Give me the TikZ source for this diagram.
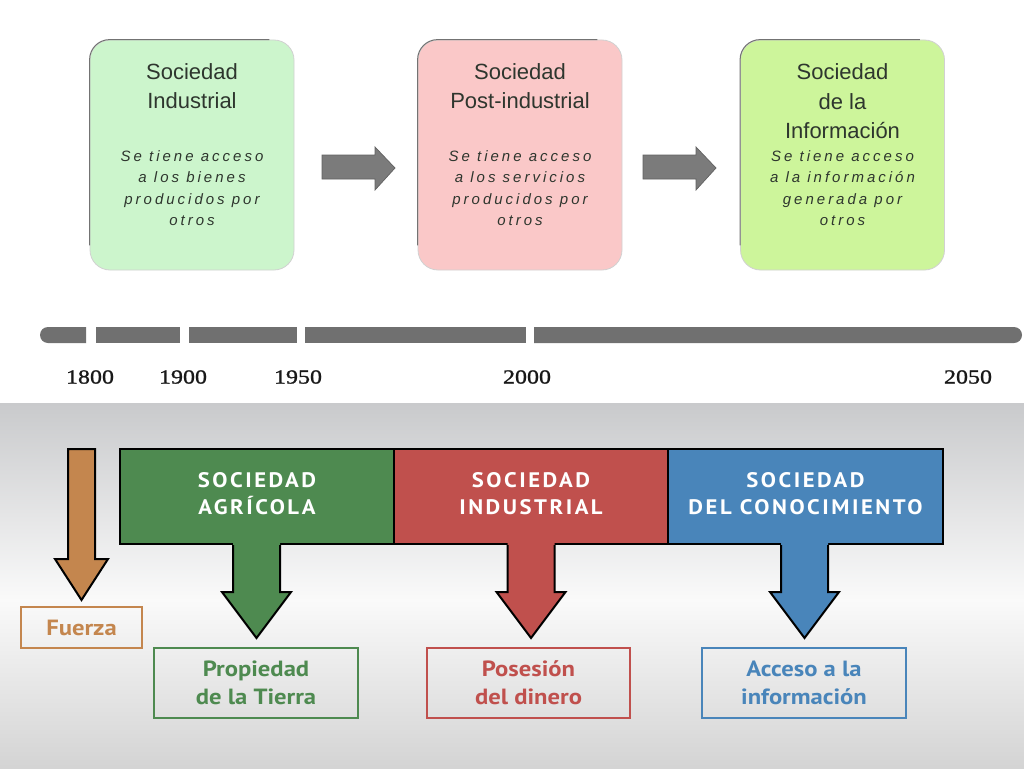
\documentclass[tikz,border=0pt]{standalone}
\usepackage{fontspec}
\setmainfont{Liberation Sans}
\newfontfamily\yearfont[FakeStretch=1.2,FakeBold=1.2]{Liberation Serif}
\newfontfamily\itfont[LetterSpace=20]{Liberation Sans}
\newfontfamily\capsfont[LetterSpace=12,FakeStretch=1.08]{PT Sans}
\newfontfamily\lblfont[FakeStretch=1.12]{PT Sans}
\definecolor{boxA}{HTML}{CCF5CC}
\definecolor{boxB}{HTML}{FAC8C8}
\definecolor{boxC}{HTML}{CDF59B}
\definecolor{tline}{HTML}{707070}
\definecolor{garrow}{HTML}{7B7B7B}
\definecolor{cgreen}{HTML}{4E8A50}
\definecolor{cred}{HTML}{C0504D}
\definecolor{cblue}{HTML}{4985BA}
\definecolor{corange}{HTML}{C4864E}
\definecolor{bandgray}{HTML}{C9CACC}
\definecolor{txtdark}{HTML}{2E362E}
\tikzset{
  topbox/.style={rounded corners=20pt, draw=black!18, line width=0.8pt, minimum width=204pt, minimum height=230pt, inner sep=0pt},
  boxedge/.style={draw=black!55, line width=1pt, rounded corners=20pt},
  ttl/.style={align=center, text=txtdark, font=\fontsize{22}{29}\selectfont, inner sep=0pt},
  itl/.style={align=center, text=txtdark, font=\itfont\itshape\fontsize{15}{21.3}\selectfont, inner sep=0pt},
  year/.style={font=\yearfont\fontsize{20}{22}\selectfont, text=black!90, inner sep=0pt},
  header/.style={draw=black, line width=2pt, minimum height=95pt, inner sep=0pt, text=white, align=center, font=\capsfont\bfseries\fontsize{21}{27}\selectfont},
  lbl/.style={line width=1.5pt, inner sep=0pt, align=center, font=\lblfont\bfseries\fontsize{22}{28}\selectfont},
  darrowline/.style={draw=black, line width=2pt, line join=miter}
}
\begin{document}
\begin{tikzpicture}[x=1pt,y=-1pt]
\useasboundingbox (0,0) rectangle (1024,768);
\fill[white] (0,0) rectangle (1024,403);
% bottom band background
\shade[top color=bandgray, bottom color=white!98!black] (0,403) rectangle (1024,600);
\shade[top color=white!98!black, bottom color=black!17] (0,600) rectangle (1024,768);

% top boxes
\node[topbox, fill=boxA] (b1) at (192,155) {};
\node[topbox, fill=boxB] (b2) at (520,155) {};
\node[topbox, fill=boxC] (b3) at (842.5,155) {};
\foreach \b in {b1,b2,b3}{
  \draw[boxedge] ([yshift=25pt]\b.south west) -- (\b.north west) -- ([xshift=-25pt]\b.north east);
}
\node[ttl] (t1) at (192,86.5) {Sociedad\\Industrial};
\node[itl] (i1) at (192,188) {Se tiene acceso\\a los bienes\\producidos por\\otros};
\node[ttl] (t2) at (520,86.5) {Sociedad\\Post-industrial};
\node[itl] (i2) at (520,188) {Se tiene acceso\\a los servicios\\producidos por\\otros};
\node[ttl, font=\fontsize{22}{29.5}\selectfont] (t3) at (842.5,101.5) {Sociedad\\de la\\Información};
\node[itl] (i3) at (842.5,188) {Se tiene acceso\\a la información\\generada por\\otros};

% gray arrows between boxes
\coordinate (ga1) at (322,167);
\coordinate (ga2) at (643,167);
\foreach \c in {ga1,ga2}{
  \fill[garrow, draw=black!62, line width=0.7pt] ([shift={(0,-12)}]\c) -- ++(53,0) -- ++(0,-8) -- ++(20,21) -- ++(-20,22) -- ++(0,-11) -- ++(-53,0) -- cycle;
}

% timeline
\fill[tline] (86,327) -- (48,327) arc[start angle=90, end angle=270, radius=8pt] -- (86,343) -- cycle;
\fill[tline] (96,327) rectangle (180,343);
\fill[tline] (189,327) rectangle (297,343);
\fill[tline] (305,327) rectangle (526,343);
\fill[tline] (534,327) -- (1014,327) arc[start angle=90, end angle=-90, radius=8pt] -- (534,343) -- cycle;

\node[year] (y1800) at (90,377) {1800};
\node[year] (y1900) at (183,377) {1900};
\node[year] (y1950) at (298,377) {1950};
\node[year] (y2000) at (527,377) {2000};
\node[year] (y2050) at (968,377) {2050};

% header boxes
\node[header, fill=cgreen, minimum width=274pt] (h1) at (257,496.5) {SOCIEDAD\\AGRÍCOLA\rule[-6pt]{0pt}{0pt}};
\node[header, fill=cred, minimum width=274pt] (h2) at (531,496.5) {SOCIEDAD\\INDUSTRIAL\rule[-6pt]{0pt}{0pt}};
\node[header, fill=cblue, minimum width=275pt] (h3) at (805.5,496.5) {SOCIEDAD\\DEL CONOCIMIENTO\rule[-6pt]{0pt}{0pt}};

% down arrows from header boxes
\foreach \cx/\col in {256.5/cgreen, 531/cred, 804.5/cblue}{
  \fill[\col] (\cx-23.5,541) -- (\cx-23.5,592) -- (\cx-34.5,592) -- (\cx,638) -- (\cx+34.5,592) -- (\cx+23.5,592) -- (\cx+23.5,541) -- cycle;
  \draw[darrowline] (\cx-23.5,545) -- (\cx-23.5,592) -- (\cx-34.5,592) -- (\cx,638) -- (\cx+34.5,592) -- (\cx+23.5,592) -- (\cx+23.5,545);
}
% orange arrow
\filldraw[fill=corange, darrowline] (68,449) -- (95,449) -- (95,559) -- (108,559) -- (81.5,600) -- (55,559) -- (68,559) -- cycle;

% label boxes
\node[lbl, draw=corange, text=corange, minimum width=121pt, minimum height=41pt] (l0) at (81.5,627.5) {Fuerza};
\node[lbl, draw=cgreen, text=cgreen, minimum width=204pt, minimum height=70pt] (l1) at (256,683) {Propiedad\\de la Tierra};
\node[lbl, draw=cred, text=cred, minimum width=203pt, minimum height=70pt] (l2) at (528.5,683) {Posesión\\del dinero};
\node[lbl, draw=cblue, text=cblue, minimum width=204pt, minimum height=70pt] (l3) at (804,683) {Acceso a la\\información};
\end{tikzpicture}
\end{document}
